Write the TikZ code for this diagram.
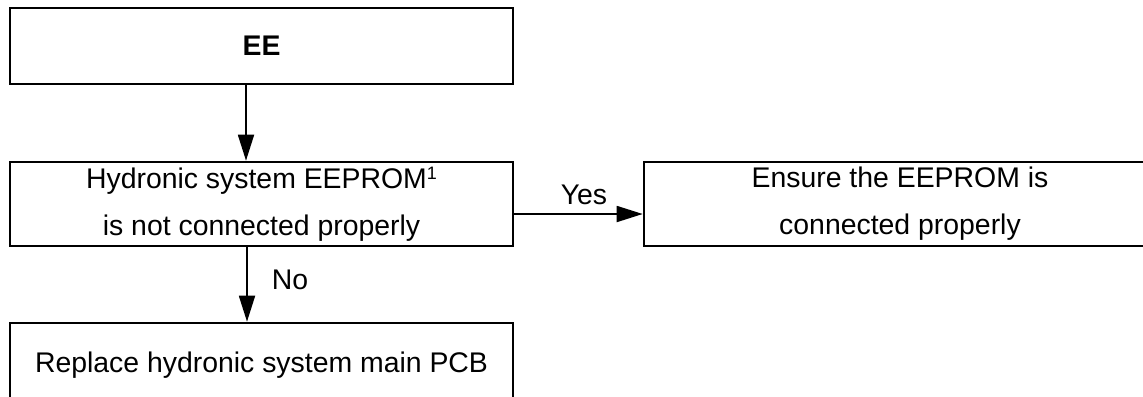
\documentclass[tikz,border=0pt]{standalone}
\usepackage{fontspec}
\setmainfont{Liberation Sans}
\usetikzlibrary{arrows.meta}
\begin{document}
\begin{tikzpicture}[x=0.5pt,y=-0.5pt,
blk/.style={draw,line width=1.3pt,minimum width=251.5pt,minimum height=42pt,inner sep=0pt,align=center,font=\fontsize{14.2}{23.5}\selectfont},
arr/.style={line width=0.9pt,-{Triangle[length=13pt,width=8pt]}},
lbl/.style={font=\fontsize{14.2}{17}\selectfont}]

\clip (0,0) rectangle (1143,396);

\node[blk,minimum height=38pt,font=\fontsize{14.2}{17}\selectfont\bfseries] (ee) at (261.5,46) {EE};
\node[blk] (hyd) at (261.5,204) {Hydronic system EEPROM\raisebox{0.6ex}{\fontsize{9}{9}\selectfont 1}\\is not connected properly};
\node[blk,minimum width=256pt] (ens) at (900,204) {Ensure the EEPROM is\\connected properly};
\node[blk] (pcb) at (261.5,365) {Replace hydronic system main PCB};

\draw[arr] ([xshift=-7.75pt]ee.south) -- ([xshift=-7.75pt]hyd.north);
\draw[arr] ([yshift=-5pt]hyd.east) -- ([yshift=-5pt]ens.west);
\draw[arr] ([xshift=-7.25pt]hyd.south) -- ([xshift=-7.25pt]pcb.north);

\node[lbl] (yes) at (584,195) {Yes};
\node[lbl] (no) at (290,280) {No};
%\node[lbl] at (262,0) {};
\end{tikzpicture}
\end{document}
